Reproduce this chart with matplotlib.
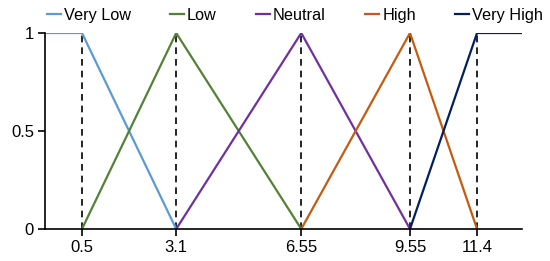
import matplotlib
matplotlib.use("Agg")
import matplotlib.pyplot as plt

plt.rcParams['font.family'] = ['Liberation Sans', 'DejaVu Sans']

names = ["Very Low", "Low", "Neutral", "High", "Very High"]
xs = [
    [-0.52, 0.5, 3.1],
    [0.5, 3.1, 6.55],
    [3.1, 6.55, 9.55],
    [6.55, 9.55, 11.4],
    [9.55, 11.4, 12.64],
]
ys = [
    [1, 1, 0],
    [0, 1, 0],
    [0, 1, 0],
    [0, 1, 0],
    [0, 1, 1],
]
colors = ["#5B9BD5", "#548235", "#7030A0", "#C55A11", "#002060"]
xticks = [0.5, 3.1, 6.55, 9.55, 11.4]
xticklabels = ["0.5", "3.1", "6.55", "9.55", "11.4"]
yticks = [0, 0.5, 1]
yticklabels = ["0", "0.5", "1"]

fig = plt.figure(figsize=(5.5, 2.61), dpi=100)
ax = fig.add_axes([45/550, 1-229/261, (522-45)/550, (229-33)/261])

for t in xticks:
    ax.plot([t, t], [0, 1], color="black", lw=1.2, ls=(0, (4, 3)), zorder=1)

for n, x, y, c in zip(names, xs, ys, colors):
    ax.plot(x, y, color=c, lw=1.6, label=n, zorder=2)

ax.set_xlim(-0.52, 12.64)
ax.set_ylim(0, 1)
ax.set_xticks(xticks)
ax.set_xticklabels(xticklabels)
ax.set_yticks(yticks)
ax.set_yticklabels(yticklabels)
for s in ["top", "right"]:
    ax.spines[s].set_visible(False)
for s in ["left", "bottom"]:
    ax.spines[s].set_linewidth(1.2)
    ax.spines[s].set_clip_on(False)
ax.tick_params(axis="both", labelsize=12, length=5, width=1.2, colors="black", pad=3)

fig.legend(loc="upper center", bbox_to_anchor=(0.536, 1.025), ncol=5, frameon=False,
           fontsize=11.7, handlelength=0.86, handletextpad=0.2, columnspacing=2.4)

fig.savefig("out.png", dpi=100)
